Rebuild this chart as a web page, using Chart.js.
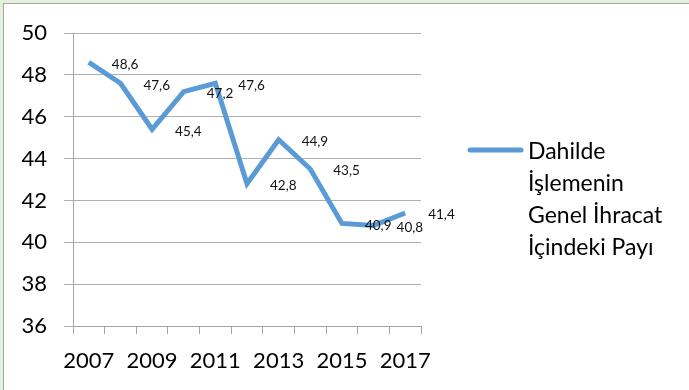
<!DOCTYPE html>
<html>
<head>
<meta charset="utf-8">
<script src="https://cdn.jsdelivr.net/npm/chart.js@4"></script>
<style>
  html, body { margin: 0; padding: 0; background: #e2efd9; }
  #frame {
    position: absolute; left: 3px; top: 3px; width: 700px; height: 400px;
    background: #fff; border-left: 1px solid #a5a5a5; border-top: 1px solid #a5a5a5;
  }
  #wrap { position: absolute; left: 0; top: 0; width: 689px; height: 390px; }
</style>
</head>
<body>
<div id="frame"></div>
<div id="wrap"><canvas id="chart" width="689" height="390"></canvas></div>
<script>
const years = ["2007", "2008", "2009", "2010", "2011", "2012", "2013", "2014", "2015", "2016", "2017"];
const shares = [48.6, 47.6, 45.4, 47.2, 47.6, 42.8, 44.9, 43.5, 40.9, 40.8, 41.4];
const seriesName = ["Dahilde", "İşlemenin", "Genel İhracat", "İçindeki Payı"];
const yTicks = [36, 38, 40, 42, 44, 46, 48, 50];

const FONT = "Lato, 'Open Sans', sans-serif";
const BLUE = "#5b9bd5";

// value labels to the right of each point, with comma decimals
const valueLabels = {
  id: "valueLabels",
  afterDatasetsDraw(chart) {
    const ctx = chart.ctx;
    const meta = chart.getDatasetMeta(0);
    ctx.save();
    ctx.font = "13.5px " + FONT;
    ctx.fillStyle = "#111";
    ctx.textAlign = "left";
    ctx.textBaseline = "middle";
    meta.data.forEach((pt, i) => {
      const txt = shares[i].toFixed(1).replace(".", ",");
      ctx.fillText(txt, pt.x + 23, pt.y + 2);
    });
    ctx.restore();
  }
};

// legend on the right, with the name wrapped over four lines
const sideLegend = {
  id: "sideLegend",
  afterDraw(chart) {
    const ctx = chart.ctx;
    ctx.save();
    ctx.strokeStyle = BLUE;
    ctx.lineWidth = 5;
    ctx.lineCap = "round";
    ctx.beginPath();
    ctx.moveTo(470, 150);
    ctx.lineTo(521, 150);
    ctx.stroke();
    ctx.font = "23px " + FONT;
    ctx.fillStyle = "#000";
    ctx.textAlign = "left";
    ctx.textBaseline = "middle";
    seriesName.forEach((line, i) => {
      ctx.fillText(line, 528, 152 + i * 32);
    });
    ctx.restore();
  }
};

new Chart(document.getElementById("chart"), {
  type: "line",
  data: {
    labels: years,
    datasets: [{
      label: seriesName.join(" "),
      data: shares,
      borderColor: BLUE,
      borderWidth: 5,
      pointRadius: 0,
      tension: 0,
      fill: false
    }]
  },
  options: {
    responsive: false,
    animation: false,
    layout: { padding: { top: 33, right: 268, bottom: 0, left: 0 } },
    plugins: {
      legend: { display: false },
      tooltip: { enabled: false }
    },
    scales: {
      x: {
        offset: true,
        grid: {
          offset: true,
          drawOnChartArea: false,
          drawTicks: true,
          tickLength: 8,
          color: "#a6a6a6"
        },
        border: { color: "#a6a6a6", width: 1 },
        ticks: {
          autoSkip: false,
          maxRotation: 0,
          padding: 14,
          color: "#000",
          font: { family: FONT, size: 22 },
          callback: (v, i) => (i % 2 === 0 ? years[i] : "")
        },
        afterFit: s => { s.height = 64; }
      },
      y: {
        min: 36,
        max: 50,
        afterBuildTicks: s => { s.ticks = yTicks.map(v => ({ value: v })); },
        grid: {
          color: "#b0b0b0",
          tickLength: 9,
          drawTicks: true
        },
        border: { color: "#a6a6a6", width: 1 },
        ticks: {
          padding: 17,
          color: "#000",
          font: { family: FONT, size: 22 }
        },
        afterFit: s => { s.width = 73; }
      }
    }
  },
  plugins: [valueLabels, sideLegend]
});
</script>
</body>
</html>
